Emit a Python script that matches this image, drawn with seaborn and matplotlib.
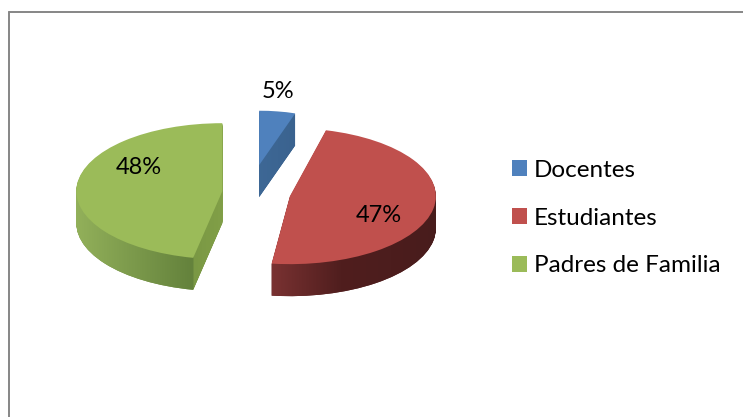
import matplotlib
matplotlib.use("Agg")
import matplotlib.pyplot as plt
from matplotlib.lines import Line2D
from matplotlib.path import Path
import numpy as np
import seaborn as sns

categories = ["Docentes", "Estudiantes", "Padres de Familia"]
values = [5, 47, 48]
top_colors = ["#4F81BD", "#C0504D", "#9BBB59"]
explode = [0.40, 0.28, 0.19]

W, H = 743, 417
# pixel position of the pie centre and size of the squashed ellipse
CX, CY, RX, RY = 250, 192, 146, 68
DEPTH = 32

sns.set_theme(style="white")
plt.rcParams["font.family"] = ["Lato", "DejaVu Sans"]


def to_data(x, y):
    return (x - CX) / RX, (CY - y) / RY


def draw_pie(ax, center, colors, **kw):
    res = ax.pie(values, colors=colors, explode=explode, startangle=90, counterclock=False,
                 center=center, wedgeprops={"linewidth": 0}, **kw)
    # the original is in perspective, blue looks smaller and the far edges shift
    res[0][0].set_radius(0.8)
    res[0][1].set_theta2(res[0][1].theta2 + 3.7)
    res[0][2].set_theta2(res[0][2].theta2 - 4.3)
    return res


def side_gradient(ax, paths, xs, cols):
    grid = np.arange(W)
    img = np.stack([np.interp(grid, xs, [c[i] for c in cols]) for i in range(3)], axis=-1) / 255
    x0, y0 = to_data(0, 0)
    x1, y1 = to_data(W, H)
    im = ax.imshow(img[None, :, :], extent=(x0, x1, y1, y0), aspect="auto", zorder=2)
    im.set_clip_path(Path.make_compound_path(*paths), transform=ax.transData)


fig = plt.figure(figsize=(W / 100, H / 100), dpi=100)
ax = fig.add_axes([0, 0, 1, 1])

# side of the pie: same pie stacked downward, then shaded
side_paths = [[], [], []]
for k in range(DEPTH, 0, -1):
    wedges, _ = draw_pie(ax, (0, -k / RY), ["#3A6491", "#5A2323", "#74903F"])
    for i, w in enumerate(wedges):
        w.set_zorder(1)
        side_paths[i].append(w.get_path())

side_gradient(ax, side_paths[0], [255, 300], [(62, 104, 150), (58, 98, 142)])
side_gradient(ax, side_paths[1], [270, 340, 440], [(122, 50, 50), (80, 30, 30), (72, 28, 28)])
side_gradient(ax, side_paths[2], [76, 192, 194, 225],
              [(146, 176, 90), (100, 130, 60), (122, 152, 68), (130, 160, 72)])

wedges, texts, autotexts = draw_pie(ax, (0, 0), top_colors, autopct="%d%%")
label_px = [(278, 91), (379, 215), (139, 167)]
for w in wedges:
    w.set_zorder(3)
for t, (x, y) in zip(autotexts, label_px):
    t.set_position(to_data(x, y))
    t.set_fontsize(17)
    t.set_color("black")
    t.set_zorder(4)

ax.set_aspect("auto")
x0, y0 = to_data(0, 0)
x1, y1 = to_data(W, H)
ax.set_xlim(x0, x1)
ax.set_ylim(y1, y0)
ax.axis("off")

ax.legend(wedges, categories, loc="center left", bbox_to_anchor=(508 / W, 1 - 218 / H),
          frameon=False, fontsize=17.5, handlelength=0.62, handleheight=0.62, handletextpad=0.3,
          labelspacing=1.1, borderaxespad=0, borderpad=0.15, labelcolor="black")

# chart border, only the top and left show
fig.add_artist(Line2D([9 / W, 1], [1 - 12 / H, 1 - 12 / H], color="#868686", lw=1.4))
fig.add_artist(Line2D([9 / W, 9 / W], [0, 1 - 12 / H], color="#868686", lw=1.4))

fig.savefig("out.png", dpi=100)
